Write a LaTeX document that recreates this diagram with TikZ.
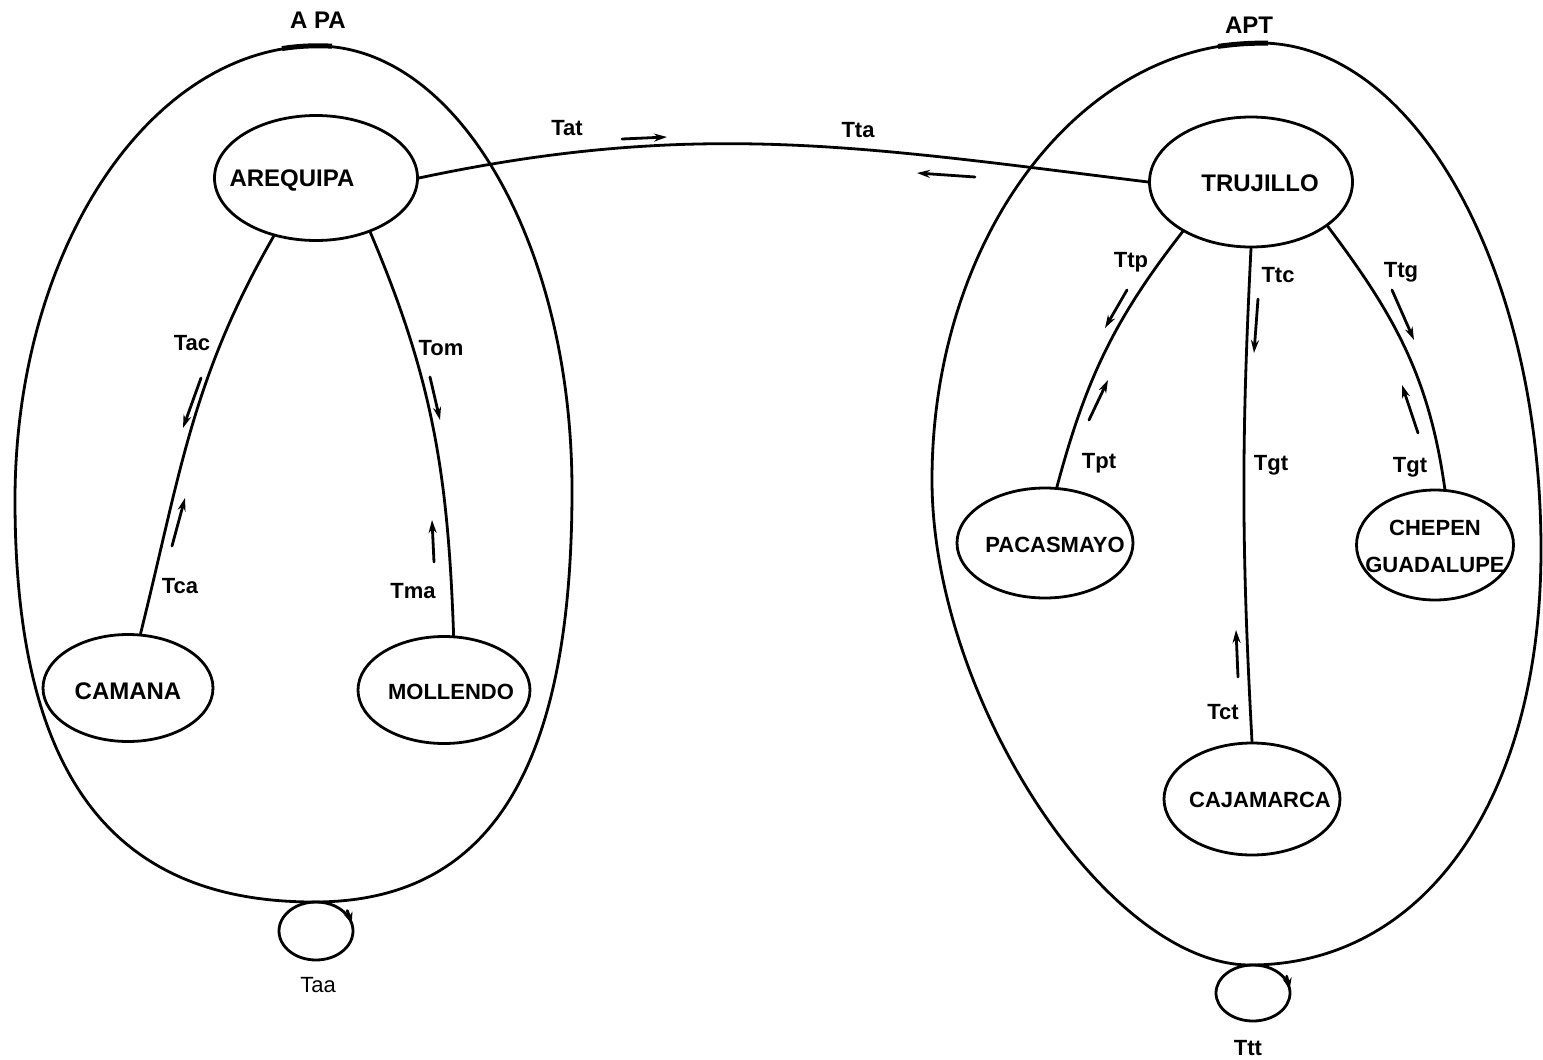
\documentclass[tikz,border=0pt]{standalone}
\usepackage{fontspec}
\setmainfont{Liberation Sans}
\usetikzlibrary{shapes.geometric,arrows.meta,calc}

\begin{document}
\begin{tikzpicture}[x=1pt,y=1pt,
  line width=2.8pt, line join=round, line cap=round,
  city/.style={draw, ellipse, inner sep=0pt, line width=2.8pt},
  cname/.style={font=\fontsize{24}{37}\selectfont\bfseries, inner sep=0pt},
  cnamesm/.style={font=\fontsize{22}{37}\selectfont\bfseries, inner sep=0pt},
  lbl/.style={font=\fontsize{22}{24}\selectfont\bfseries, inner sep=0pt},
  lblthin/.style={font=\fontsize{22}{24}\selectfont, inner sep=0pt},
  ttl/.style={font=\fontsize{24}{26}\selectfont\bfseries, inner sep=0pt},
  dirarrow/.style={line width=2.8pt, -{Stealth[length=13pt,width=8pt]}},
  looptip/.style={line width=2.8pt, -{Stealth[length=11pt,width=9pt]}},
]
\useasboundingbox (0,0) rectangle (1543,-1060);
\fill[white] (0,0) rectangle (1543,-1060);

% ---------- region APA ----------
\coordinate (aL) at (15,-500);
\coordinate (aT) at (317,-46);
\coordinate (aR) at (572,-490);
\coordinate (aB) at (314,-902);
\draw (aL) .. controls +(0,250.7) and +(-166.8,0) .. (aT)
           .. controls +(140.8,0) and +(0,245.2) .. (aR)
           .. controls +(0,-280) and +(175.4,0) .. (aB)
           .. controls +(-203.3,0) and +(0,-273.4) .. (aL) -- cycle;

% ---------- region APT ----------
\coordinate (tL) at (932,-480);
\coordinate (tT) at (1260,-43);
\coordinate (tR) at (1541,-550);
\coordinate (tB) at (1250,-965);
\draw (tL) .. controls +(0,241.4) and +(-181.2,0) .. (tT)
           .. controls +(155.2,0) and +(0,280) .. (tR)
           .. controls +(0,-249) and +(174.6,0) .. (tB)
           .. controls +(-143.1,0) and +(0,-218.3) .. (tL) -- cycle;

% ---------- titles ----------
\node[ttl] (ttlA) at (318,-20) {A PA};
\node[ttl] (ttlT) at (1249,-25) {APT};
\draw[line width=5pt, line cap=butt] (282,-48.6) .. controls (298,-46) and (316,-45.2) .. (332,-46.2);
\draw[line width=5pt, line cap=butt] (1218,-46.4) .. controls (1235,-44) and (1250,-43) .. (1268,-43.1);

% ---------- cities ----------
\node[city, minimum width=203pt, minimum height=125pt,
      label={[cname, xshift=-24pt, yshift=-2pt]center:AREQUIPA}] (are) at (316,-178) {};
\node[city, minimum width=170pt, minimum height=107pt,
      label={[cname, yshift=-3pt]center:CAMANA}] (cam) at (128,-688) {};
\node[city, minimum width=172pt, minimum height=107pt,
      label={[cnamesm, xshift=7pt, yshift=-2pt]center:MOLLENDO}] (mol) at (444,-690) {};
\node[city, minimum width=203pt, minimum height=130pt,
      label={[cname, xshift=9pt, yshift=-1pt]center:TRUJILLO}] (tru) at (1251,-182) {};
\node[city, minimum width=176pt, minimum height=110pt,
      label={[cnamesm, xshift=10pt, yshift=-2pt]center:PACASMAYO}] (pac) at (1045,-543) {};
\node[city, minimum width=157pt, minimum height=110pt,
      label={[cnamesm, align=center, yshift=-1pt]center:{CHEPEN\\GUADALUPE}}] (che) at (1435,-545) {};
\node[city, minimum width=176pt, minimum height=112pt,
      label={[cnamesm, xshift=8pt, yshift=-1pt]center:CAJAMARCA}] (caj) at (1252,-799) {};

% ---------- links ----------
\draw (are.east) to[out=12,in=173] (tru.west);
\draw (are.234) to[out=240,in=76] (cam.77);
\draw (are.-45) to[out=-67,in=92] (mol.80);
\draw (tru.216) to[out=232,in=75] (pac.78);
\draw (tru.south) to[bend right=3] (caj.north);
\draw (tru.-30) to[out=-53,in=98] (che.80);

% ---------- flow directions ----------
\draw[dirarrow] (622,-139) -- (667,-137);
\draw[dirarrow] (975,-177) -- (917,-173);
\draw[dirarrow] (201,-378) -- (183,-428);
\draw[dirarrow] (172,-546) -- (185,-498);
\draw[dirarrow] (430,-377) -- (440,-420);
\draw[dirarrow] (434,-562) -- (432,-520);
\draw[dirarrow] (1127,-290) -- (1105,-328);
\draw[dirarrow] (1089,-420) -- (1108,-380);
\draw[dirarrow] (1258,-299) -- (1254,-353);
\draw[dirarrow] (1392,-290) -- (1414,-340);
\draw[dirarrow] (1418,-433) -- (1402,-385);
\draw[dirarrow] (1238,-677) -- (1236,-630);

% ---------- link labels ----------
\node[lbl] (lTat) at (567,-128) {Tat};
\node[lbl] (lTta) at (858,-130) {Tta};
\node[lbl] (lTac) at (192,-343) {Tac};
\node[lbl] (lTca) at (180,-586) {Tca};
\node[lbl] (lTom) at (441,-348) {Tom};
\node[lbl] (lTma) at (413,-591) {Tma};
\node[lbl] (lTtp) at (1131,-262) {Ttp};
\node[lbl] (lTtc) at (1278,-275) {Ttc};
\node[lbl] (lTtg) at (1401,-272) {Ttg};
\node[lbl] (lTpt) at (1099,-463) {Tpt};
\node[lbl] (lTgtA) at (1271,-465) {Tgt};
\node[lbl] (lTgtB) at (1410,-467) {Tgt};
\node[lbl] (lTct) at (1223,-712) {Tct};

% ---------- internal loops (clockwise) ----------
\coordinate (apaLoop) at (316,-931);
\draw (apaLoop) ellipse [x radius=37, y radius=29];
\coordinate (apaTip) at ($(apaLoop)+(15:37pt and 29pt)$);
\draw[looptip] ($(apaTip)+(-4.5,13)$) -- (apaTip);
\node[lblthin] (lTaa) at (318,-985) {Taa};

\coordinate (aptLoop) at (1253,-993);
\draw (aptLoop) ellipse [x radius=37, y radius=28];
\coordinate (aptTip) at ($(aptLoop)+(8:37pt and 28pt)$);
\draw[looptip] ($(aptTip)+(-3,13)$) -- (aptTip);
\node[lbl] (lTtt) at (1248,-1048) {Ttt};

\end{tikzpicture}
\end{document}
